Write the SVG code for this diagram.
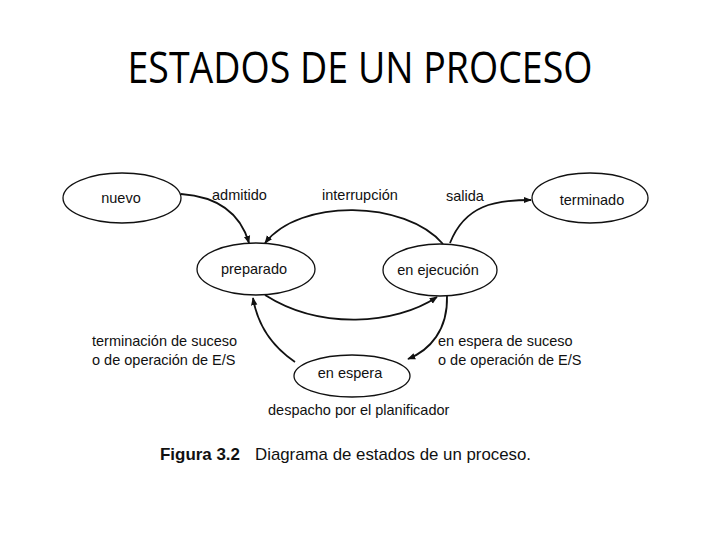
<svg xmlns="http://www.w3.org/2000/svg" width="720" height="540" viewBox="0 0 720 540">
<style>
.node{fill:#fff;stroke:#111;stroke-width:1.3}
.t{font-family:"Liberation Sans",Arial,sans-serif;font-size:14.5px;fill:#111}
.c{text-anchor:middle}
.e{fill:none;stroke:#111;stroke-width:1.8}
</style>
<defs>
<marker id="ah" viewBox="0 0 10 10" refX="9" refY="5" markerWidth="8" markerHeight="8" markerUnits="userSpaceOnUse" orient="auto">
<path d="M0,1 L10,5 L0,9 Z" fill="#111"/>
</marker>
</defs>
<rect width="720" height="540" fill="#fff"/>
<text x="360" y="83" text-anchor="middle" font-family="'Open Sans','Noto Sans',sans-serif" font-size="44" fill="#000" textLength="465" lengthAdjust="spacingAndGlyphs">ESTADOS DE UN PROCESO</text>

<g id="connectors">
<path class="e" d="M181,194 Q236,198 249,243" marker-end="url(#ah)"/>
<path class="e" d="M443,244 C405,200 300,198 265,243" marker-end="url(#ah)"/>
<path class="e" d="M450,243 C465,205 495,200 531,200" marker-end="url(#ah)"/>
<path class="e" d="M265,295 C320,330 395,325 437,297" marker-end="url(#ah)"/>
<path class="e" d="M447,296 C448,330 430,350 408,359" marker-end="url(#ah)"/>
<path class="e" d="M295,362 C270,345 257,322 253,298" marker-end="url(#ah)"/>
</g>

<g id="nuevo"><ellipse class="node" cx="122" cy="198" rx="59" ry="25"/><text class="t c" x="121" y="203">nuevo</text></g>
<g id="preparado"><ellipse class="node" cx="256" cy="269" rx="59" ry="26"/><text class="t c" x="254" y="274">preparado</text></g>
<g id="ejecucion"><ellipse class="node" cx="440" cy="270" rx="57" ry="26"/><text class="t c" x="438" y="275">en ejecución</text></g>
<g id="terminado"><ellipse class="node" cx="590" cy="198" rx="58" ry="25"/><text class="t c" x="592" y="205">terminado</text></g>
<g id="espera"><ellipse class="node" cx="352" cy="376" rx="58" ry="21"/><text class="t c" x="350" y="378">en espera</text></g>

<g id="labels">
<text class="t" x="212" y="200">admitido</text>
<text class="t" x="322" y="200">interrupción</text>
<text class="t" x="446" y="201">salida</text>
<text class="t" x="92" y="346">terminación de suceso</text>
<text class="t" x="92" y="365">o de operación de E/S</text>
<text class="t" x="438" y="346">en espera de suceso</text>
<text class="t" x="438" y="365">o de operación de E/S</text>
<text class="t" x="268" y="415">despacho por el planificador</text>
</g>
<g id="caption">
<text x="160" y="460" font-family="'Liberation Sans',Arial,sans-serif" font-size="17" font-weight="bold" fill="#111" textLength="80" lengthAdjust="spacingAndGlyphs">Figura 3.2</text>
<text x="255" y="460" font-family="'Liberation Sans',Arial,sans-serif" font-size="17" fill="#111" textLength="276" lengthAdjust="spacingAndGlyphs">Diagrama de estados de un proceso.</text>
</g>
</svg>
